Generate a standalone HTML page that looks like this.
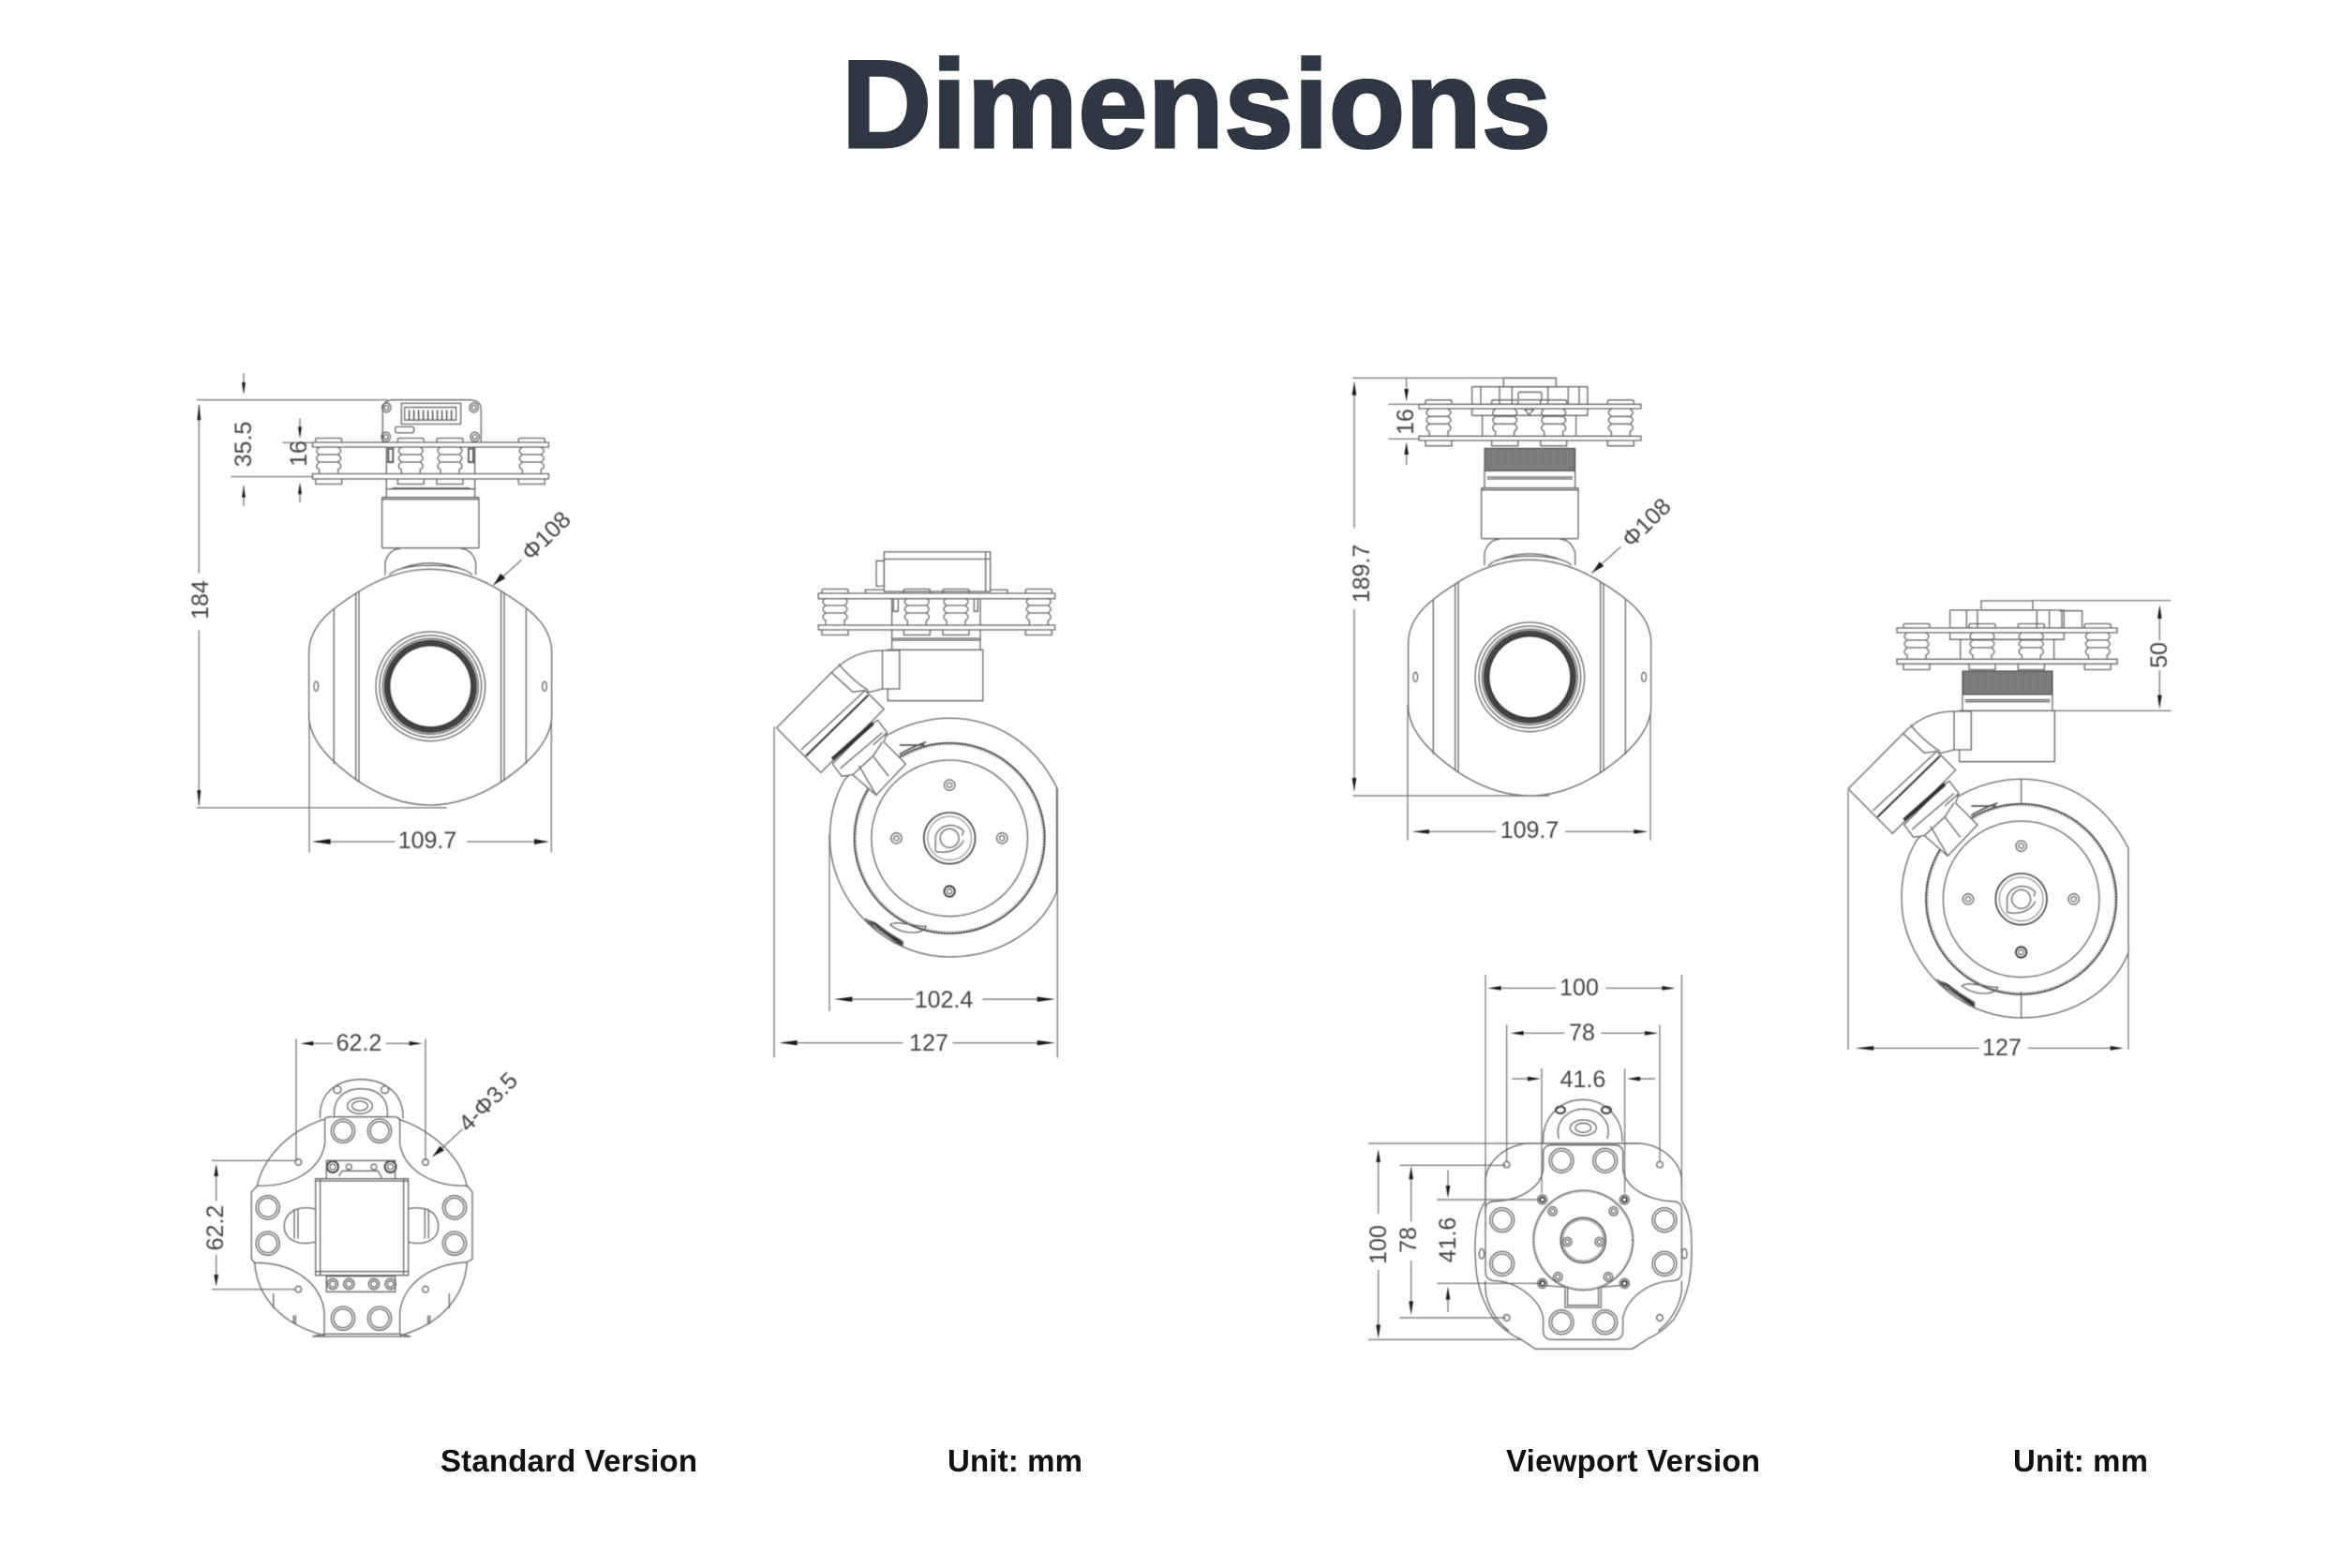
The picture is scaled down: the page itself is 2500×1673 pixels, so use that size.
<!DOCTYPE html>
<html><head><meta charset="utf-8"><style>
html,body{margin:0;padding:0;background:#fff}
svg{display:block}
svg *{vector-effect:non-scaling-stroke}
.s,.s *{fill:none;stroke:#666;stroke-width:1.3}
.w{fill:#fff!important}
.d{fill:none;stroke:#808080;stroke-width:1.4}
.k{fill:#1c1c1c;stroke:none}
.t{font-family:"Liberation Sans",sans-serif;font-size:25px;fill:#444;text-anchor:middle;dominant-baseline:central}
.c{font-family:"Liberation Sans",sans-serif;font-weight:bold;font-size:33px;fill:#111}
</style></head><body>
<svg width="2500" height="1673" viewBox="0 0 2500 1673" xmlns="http://www.w3.org/2000/svg">
<defs>
<pattern id="kn" width="8" height="10" patternUnits="userSpaceOnUse"><rect width="8" height="10" fill="#5a5a5a"/><rect x="1" width="2" height="10" fill="#b0b0b0"/><rect x="5" width="1.500" height="10" fill="#999"/></pattern>
<g id="iso" class="s">
<path d="M-14 0V-3Q-14 -4.500 -12 -4.500H12Q14 -4.500 14 -3V0"/>
<path d="M-10 5C-14 8 -14 10 -10 13C-14 16 -14 18 -10 21C-14 24 -14 27 -10 29V34M10 5C14 8 14 10 10 13C14 16 14 18 10 21C14 24 14 27 10 29V34M-11 13H11M-11 21H11"/>
<path d="M-14 39V44.500H14V39"/>
</g>
<g id="front" transform="translate(1440 390) scale(.33333)" class="s">
<path d="M432 640V600C440 570 460 556 480 556M722 640V600C714 570 694 556 674 556M445 640C475 600 680 600 710 640M470 625Q575 580 685 625"/>
<rect x="422" y="392" width="310" height="162" rx="3" class="w"/>
<path d="M422 398H732"/>
<path class="w" d="M345 695Q575 549 808 695C895 750 965 800 965 890V1090C965 1170 895 1240 808 1300Q575 1454 345 1300C260 1240 188 1170 188 1090V890C188 800 260 750 345 695Z"/>
<path d="M338 698V1298M348 692V1304M803 692V1304M813 698V1298M268 750V1245M883 750V1245" />
<ellipse cx="211" cy="997" rx="7" ry="15"/><ellipse cx="942" cy="997" rx="7" ry="15"/>
<circle cx="577" cy="997" r="175"/><circle cx="577" cy="997" r="163"/><circle cx="577" cy="997" r="153"/>
<circle cx="577" cy="997" r="140" style="stroke:#444;stroke-width:6"/>
<circle cx="577" cy="997" r="131" style="stroke:#333;stroke-width:1.5"/>
</g>
<g id="side" transform="translate(1960 630) scale(.33333)" class="s">
<path class="w" d="M388 660C470 610 560 600 620 605C740 615 860 680 933 825V1160C880 1290 740 1368 590 1368C385 1368 207 1190 207 985C207 910 225 850 255 800Z"/>
<rect x="392" y="385" width="305" height="163" class="w"/>
<path class="w" d="M212 458C260 410 310 387 375 387H430V510H375L335 520L280 520Z"/>
<path d="M375 387V510M235 430C260 460 290 490 330 515"/>
<circle cx="590" cy="988" r="305" style="stroke:#444;stroke-width:1.6"/>
<circle cx="590" cy="988" r="301" style="stroke:#777;stroke-width:2;stroke-dasharray:1.500 1.500"/>
<circle cx="590" cy="988" r="250"/>
<circle cx="590" cy="988" r="82" style="stroke:#444;stroke-width:1.6"/><circle cx="590" cy="988" r="70" style="stroke:#999"/>
<circle cx="590" cy="988" r="30"/>
<path d="M545 1030V985C550 950 600 930 635 965L630 980M545 1030C590 1040 625 1020 635 995"/>
<circle cx="590" cy="818" r="17"/><circle cx="590" cy="818" r="8"/>
<circle cx="590" cy="1158" r="17" style="stroke:#333;stroke-width:1.8"/><circle cx="590" cy="1158" r="8"/>
<circle cx="420" cy="988" r="17"/><circle cx="420" cy="988" r="8"/>
<circle cx="758" cy="988" r="17"/><circle cx="758" cy="988" r="8"/>
<path d="M330 1255L350 1262L440 1328" style="stroke:#333;stroke-width:3.5"/>
<path d="M320 1245L440 1318V1335L345 1270Z"/>
<path d="M400 1265C420 1250 470 1270 515 1270C510 1295 440 1300 400 1265Z"/>
<path d="M430 720C460 700 490 690 515 680M430 690H510" style="stroke:#555;stroke-width:1.8"/>
<path class="w" d="M36 635L212 458L280 520L320 515L380 575L178 778Z"/>
<path d="M115 705L320 515M130 725L330 530" />
<path d="M130 725L330 530" style="stroke:#333;stroke-width:2"/>
<path class="w" d="M215 750L345 620L360 610L390 650L380 680L450 750L355 850L280 785L245 790Z"/>
<path d="M215 735L345 620" style="stroke:#333;stroke-width:4"/>
<path d="M240 765L375 650M280 785L345 725L375 680M345 725L395 790M300 755L355 850M390 650L345 690"/>
</g>
</defs>

<rect width="2500" height="1673" fill="#fff"/>

<text x="898" y="157" font-family="'Liberation Sans',sans-serif" font-weight="bold" font-size="133" fill="#2f3742" stroke="#2f3742" stroke-width="3" textLength="757" lengthAdjust="spacing">Dimensions</text>

<text class="c" x="470" y="1570" textLength="274">Standard Version</text>
<text class="c" x="1011" y="1570" textLength="144">Unit: mm</text>
<text class="c" x="1607" y="1570" textLength="271">Viewport Version</text>
<text class="c" x="2148" y="1570" textLength="144">Unit: mm</text>

<g style="filter:blur(.6px)">
<!-- ========= VIEW A ========= -->
<g transform="translate(180 380) scale(.33333 .359)">
<g class="d"><path d="M90 130H700M97 145V645M97 815V1335M90 1342H890M240 50V85M240 385V445M420 185V215M420 405V435M365 257H470M200 358H460M450 1060V1475M1225 1060V1475M518 1443H725M955 1443H1170M1040 680L1130 605"/></g>
<g class="k"><path d="M97 140L91 190H103ZM97 1337L91 1290H103ZM240 115L234 78H246ZM240 385L234 420H246ZM420 245L414 210H426ZM420 375L414 410H426ZM458 1443L518 1435V1451ZM1218 1443L1170 1435V1451ZM1040 680L1062 646L1078 660Z"/></g>
<g class="s">
<path d="M685 255V160Q685 130 720 130H960Q1000 130 1000 160V255"/>
<circle cx="697" cy="153" r="14"/><circle cx="697" cy="153" r="7"/><circle cx="977" cy="153" r="14"/><circle cx="977" cy="153" r="7"/>
<circle cx="695" cy="240" r="14"/><circle cx="695" cy="240" r="7"/><circle cx="980" cy="240" r="14"/><circle cx="980" cy="240" r="7"/>
<rect x="745" y="140" width="190" height="62"/><rect x="755" y="152" width="165" height="38"/>
<path d="M770 160V188M785 160V188M800 160V188M815 160V188M830 160V188M845 160V188M860 160V188M875 160V188M890 160V188M905 160V188" style="stroke:#555;stroke-width:1.5"/>
<rect x="725" y="210" width="60" height="18" rx="5"/>
<path d="M697 270V395M980 270V395M697 395H980M697 425V395M980 425V395M715 392H965"/>
<rect x="703" y="275" width="15" height="40" style="stroke:#555;stroke-width:1.8"/><rect x="960" y="275" width="15" height="40" style="stroke:#555;stroke-width:1.8"/>
</g>
</g>
<g class="s"><rect class="w" x="333.500" y="472" width="252" height="5"/><rect class="w" x="333.500" y="505.500" width="252" height="5.500"/></g>
<use href="#iso" x="350.700" y="472"/><use href="#iso" x="438.300" y="472"/><use href="#iso" x="480" y="472"/><use href="#iso" x="567.300" y="472"/>
<use href="#front" transform="translate(-1173 10)"/>

<!-- ========= VIEW B ========= -->
<g transform="translate(800 560) scale(.33333 .3846)">
<g class="d"><path d="M78 560V1478M985 730V1478M255 860V1350M328 1316H525M745 1316H920M152 1437H490M650 1437H920"/></g>
<g class="k"><path d="M270 1316L328 1309V1323ZM978 1316L920 1309V1323ZM93 1437L152 1430V1444ZM978 1437L920 1430V1444Z"/></g>
<g class="s">
<rect x="430" y="75" width="340" height="110"/><path d="M430 95H770M755 75V185M405 100H430V170H405Z"/>
<path d="M370 190V180H430M770 180H825V190"/>
<path d="M455 205V345M738 205V345M455 315H738M455 320H738"/>
<rect x="460" y="205" width="15" height="35"/><rect x="718" y="205" width="12" height="35"/>
</g>
</g>
<g class="s"><rect class="w" x="873.300" y="633" width="252.400" height="5.800"/><rect class="w" x="873.300" y="667" width="252.400" height="5"/></g>
<use href="#iso" x="891" y="633"/><use href="#iso" x="978.300" y="633"/><use href="#iso" x="1020" y="633"/><use href="#iso" x="1108.300" y="633"/>
<use href="#side" transform="translate(-1143.500 -65)"/>

<!-- ========= VIEW C ========= -->
<g transform="translate(200 1090) scale(.33333)">
<g class="d"><path d="M348 55V445M762 55V445M403 70H465M635 70H710M78 445H350M78 857H345M92 495V575M92 745V810M785 432L880 345"/></g>
<g class="k"><path d="M362 70L403 63V77ZM752 70L710 63V77ZM92 455L85 495H99ZM92 848L85 810H99ZM785 432L808 398L822 412Z"/></g>
<g class="s">
<path d="M425 310C420 220 490 185 555 185C620 185 692 220 690 310"/>
<path d="M470 305C465 240 510 215 555 215C610 215 645 245 640 305"/>
<ellipse cx="552" cy="270" rx="40" ry="25"/><ellipse cx="552" cy="270" rx="25" ry="15"/>
<circle cx="480" cy="218" r="12"/><circle cx="632" cy="218" r="12"/>
<path d="M440 312C320 350 240 440 222 530M675 312C790 350 880 440 895 530M215 770C222 880 300 970 440 1005M895 770C888 880 810 970 680 1005M400 1008H715M440 1000L400 1008M680 1000L715 1008"/>
<path d="M440 312V390C430 470 340 530 225 525L205 545V760L215 772C340 770 430 840 438 930V1000H680V930C690 840 780 775 895 770L912 760V545L895 525C780 530 690 470 680 390V315Q678 305 660 305H460Q442 305 440 312Z"/>
<path d="M275 870V918M838 870V918M340 940V968M346 940V970M770 940V970M776 940V968"/>
<g>
<circle cx="498" cy="350" r="38"/><circle cx="498" cy="350" r="30"/><circle cx="615" cy="350" r="38"/><circle cx="615" cy="350" r="30"/>
<circle cx="257" cy="595" r="38"/><circle cx="257" cy="595" r="30"/><circle cx="257" cy="710" r="38"/><circle cx="257" cy="710" r="30"/>
<circle cx="855" cy="595" r="38"/><circle cx="855" cy="595" r="30"/><circle cx="855" cy="710" r="38"/><circle cx="855" cy="710" r="30"/>
<circle cx="498" cy="950" r="38"/><circle cx="498" cy="950" r="30"/><circle cx="615" cy="950" r="38"/><circle cx="615" cy="950" r="30"/>
</g>
<circle cx="355" cy="450" r="10"/><circle cx="762" cy="450" r="10"/><circle cx="355" cy="857" r="10"/><circle cx="762" cy="857" r="10"/>
<path d="M410 600C340 585 310 620 310 655C310 695 350 720 410 705M342 600V695M354 600V695M704 600C775 585 803 620 803 655C803 695 765 720 704 705M772 600V695M760 600V695"/>
<rect x="410" y="503" width="297" height="309" class="w"/>
<path d="M425 503V812M692 503V812M410 510H707M410 800H707"/>
<circle cx="465" cy="465" r="18" style="stroke:#444;stroke-width:2"/><circle cx="465" cy="465" r="9"/><circle cx="650" cy="465" r="18" style="stroke:#444;stroke-width:2"/><circle cx="650" cy="465" r="9"/>
<circle cx="517" cy="465" r="9"/><circle cx="597" cy="465" r="9"/>
<path d="M445 503V445H665V503M485 495L495 478H610L622 500"/>
<rect x="445" y="815" width="220" height="50"/>
<circle cx="465" cy="840" r="17"/><circle cx="465" cy="840" r="10"/><circle cx="517" cy="840" r="17"/><circle cx="517" cy="840" r="10"/><circle cx="597" cy="840" r="17"/><circle cx="597" cy="840" r="10"/><circle cx="650" cy="840" r="17"/><circle cx="650" cy="840" r="10"/>
</g>
</g>

<!-- ========= VIEW D ========= -->
<g transform="translate(1440 390) scale(.33333)">
<g class="d"><path d="M15 95V520M15 780V1320M10 40H660M10 1377H640M182 40V80M182 285V318M125 124H240M125 235H240M186 1085V1520M963 1085V1520M255 1492H470M690 1492H910M775 665L868 580"/></g>
<g class="k"><path d="M15 50L8 95H22ZM15 1365L8 1320H22ZM182 115L175 75H189ZM182 245L175 285H189ZM200 1492L255 1485V1499ZM955 1492L910 1485V1499ZM777 663L800 628L814 642Z"/></g>
<g class="s">
<rect x="493" y="40" width="168" height="28"/>
<rect x="392" y="68" width="370" height="56"/>
<path d="M420 68V124M480 68V124M520 68V124M635 68V124M700 68V124M735 68V124"/>
<rect x="540" y="85" width="75" height="25" rx="5"/>
<rect x="392" y="138" width="370" height="22"/>
<path d="M425 160V226M725 160V226M560 140H590L575 158Z"/>
</g>
<rect x="432" y="265" width="290" height="72" fill="url(#kn)" stroke="#444"/>
<g class="s"><path d="M432 337V392M722 337V392M440 357H714M440 363H714"/></g>
</g>
<g class="s"><rect class="w" x="1514" y="431.300" width="237" height="4.700"/><rect class="w" x="1514" y="465.300" width="237" height="4.700"/></g>
<use href="#iso" x="1535" y="431.300"/><use href="#iso" x="1605.700" y="431.300"/><use href="#iso" x="1657.700" y="431.300"/><use href="#iso" x="1729.300" y="431.300"/>
<use href="#front"/>

<!-- ========= VIEW E ========= -->
<g transform="translate(1450 1040) scale(.33333)">
<g class="d"><path d="M405 0V760M1033 0V680M455 43H630M790 43H970M473 160V600M963 160V600M527 187H658M775 187H915M585 300V700M851 300V700M490 333H540M900 333H948M30 540H900M130 610H470M250 720H580M250 988H585M130 1098H470M30 1168H520M62 600V765M62 945V1120M167 655V790M167 915V1045M285 625V675M285 1040V1080"/></g>
<g class="k"><path d="M412 43L455 36V50ZM1013 43L970 36V50ZM485 187L527 180V194ZM958 187L915 180V194ZM582 333L540 326V340ZM858 333L900 326V340ZM62 558L55 600H69ZM62 1165L55 1120H69ZM167 612L160 655H174ZM167 1090L160 1045H174ZM285 715L278 675H292ZM285 998L278 1040H292Z"/></g>
<g class="s">
<path d="M590 540C585 460 640 400 718 400C790 400 845 460 843 535"/>
<path d="M640 525C625 470 670 430 718 430C770 430 810 470 795 525"/>
<ellipse cx="718" cy="490" rx="42" ry="25"/><ellipse cx="718" cy="490" rx="25" ry="15"/>
<ellipse cx="645" cy="433" rx="15" ry="11" style="stroke:#444;stroke-width:2"/><ellipse cx="792" cy="433" rx="15" ry="11" style="stroke:#444;stroke-width:2"/>
<path d="M405 725C380 760 372 810 372 870C372 960 380 1020 430 1100C455 1130 490 1155 515 1165L565 1198H875L925 1165C950 1155 985 1130 1010 1100C1058 1020 1065 960 1065 870C1065 810 1058 760 1033 725"/>
<path d="M405 725V660C405 600 470 545 540 540H900C970 545 1033 600 1033 660V725M405 980V1010C410 1060 440 1110 480 1140M1033 980V1010C1028 1060 998 1110 958 1140"/>
<path d="M590 570Q590 545 620 545H815Q845 545 845 570V620C850 680 920 720 1000 725Q1033 725 1033 750V950Q1033 980 1000 980C920 985 855 1040 845 1100V1140Q845 1168 815 1168H620Q590 1168 590 1140V1100C580 1040 510 985 440 980Q405 980 405 950V750Q405 725 440 725C520 720 585 680 590 620Z"/>
<g>
<circle cx="648" cy="595" r="39"/><circle cx="648" cy="595" r="31"/><circle cx="788" cy="595" r="39"/><circle cx="788" cy="595" r="31"/>
<circle cx="458" cy="785" r="39"/><circle cx="458" cy="785" r="31"/><circle cx="458" cy="925" r="39"/><circle cx="458" cy="925" r="31"/>
<circle cx="978" cy="785" r="39"/><circle cx="978" cy="785" r="31"/><circle cx="978" cy="925" r="39"/><circle cx="978" cy="925" r="31"/>
<circle cx="648" cy="1112" r="39"/><circle cx="648" cy="1112" r="31"/><circle cx="788" cy="1112" r="39"/><circle cx="788" cy="1112" r="31"/>
</g>
<circle cx="473" cy="608" r="10"/><circle cx="963" cy="608" r="10"/><circle cx="473" cy="1098" r="10"/><circle cx="963" cy="1098" r="10"/>
<ellipse cx="393" cy="893" rx="8" ry="16"/><ellipse cx="1042" cy="893" rx="8" ry="16"/>
<circle cx="718" cy="850" r="160" style="stroke:#666;stroke-width:1.300"/>
<circle cx="718" cy="850" r="157" style="stroke:#888;stroke-width:2;stroke-dasharray:1.500 1.500"/>
<circle cx="718" cy="850" r="72" style="stroke:#555;stroke-width:1.600"/><circle cx="718" cy="850" r="66" style="stroke:#999"/>
<circle cx="620" cy="757" r="14"/><circle cx="620" cy="757" r="7"/><circle cx="815" cy="757" r="14"/><circle cx="815" cy="757" r="7"/>
<circle cx="667" cy="855" r="14"/><circle cx="667" cy="855" r="7"/><circle cx="770" cy="855" r="14"/><circle cx="770" cy="855" r="7"/>
<circle cx="637" cy="967" r="14"/><circle cx="637" cy="967" r="7"/><circle cx="798" cy="967" r="14"/><circle cx="798" cy="967" r="7"/>
<circle cx="587" cy="720" r="15"/><circle cx="587" cy="720" r="8" style="stroke:#333;stroke-width:1.8"/><circle cx="850" cy="720" r="15"/><circle cx="850" cy="720" r="8" style="stroke:#333;stroke-width:1.8"/>
<circle cx="587" cy="988" r="15"/><circle cx="587" cy="988" r="8" style="stroke:#333;stroke-width:1.8"/><circle cx="850" cy="988" r="15"/><circle cx="850" cy="988" r="8" style="stroke:#333;stroke-width:1.8"/>
<path d="M600 995L660 1000V1065H775V1000L835 995M668 1000V1058H767V1000"/>
</g>
</g>

<!-- ========= VIEW F ========= -->
<g transform="translate(1960 630) scale(.33333)">
<g class="d"><path d="M36 640V1470M933 1150V1470M118 1465H455M612 1465H875M625 32H1070M698 385H1070M1033 90V160M1033 255V335"/></g>
<g class="k"><path d="M58 1465L118 1458V1472ZM918 1465L875 1458V1472ZM1033 45L1026 90H1040ZM1033 380L1026 335H1040Z"/></g>
<g class="s">
<rect x="462" y="33" width="165" height="30"/>
<rect x="362" y="63" width="365" height="57"/>
<path d="M415 63V120M450 63V120M640 63V120M680 63V120"/>
<path d="M712 65H785V120H712M720 65V120"/>
<rect x="362" y="135" width="365" height="22"/>
<path d="M395 157V220M695 157V220"/>
</g>
<rect x="402" y="258" width="288" height="75" fill="url(#kn)" stroke="#444"/>
<g class="s"><path d="M402 333V385M690 333V385M410 350H682M410 356H682"/></g>
</g>
<g class="s"><rect class="w" x="2024" y="670" width="235" height="5"/><rect class="w" x="2024" y="703.300" width="235" height="5"/></g>
<use href="#iso" x="2045" y="670"/><use href="#iso" x="2115" y="670"/><use href="#iso" x="2167.300" y="670"/><use href="#iso" x="2238.300" y="670"/>
<use href="#side"/>
<g transform="translate(1960 630) scale(.33333)" class="s"><path d="M590 605V685M590 1285V1368"/></g>

<!-- ========= DIMENSION TEXT ========= -->
<text class="t" x="456" y="897">109.7</text>
<text class="t" transform="rotate(-90 214 640)" x="214" y="640">184</text>
<text class="t" transform="rotate(-90 260 474)" x="260" y="474">35.5</text>
<text class="t" transform="rotate(-90 319 484)" x="319" y="484">16</text>
<text class="t" transform="rotate(-45 583 572)" x="583" y="572">Φ108</text>
<text class="t" x="1007" y="1067">102.4</text>
<text class="t" x="991" y="1113">127</text>
<text class="t" x="383" y="1113">62.2</text>
<text class="t" transform="rotate(-90 230 1310)" x="230" y="1310">62.2</text>
<text class="t" transform="rotate(-45 521 1176)" x="521" y="1176">4-Φ3.5</text>
<text class="t" transform="rotate(-90 1453 612)" x="1453" y="612">189.7</text>
<text class="t" transform="rotate(-90 1500 450)" x="1500" y="450">16</text>
<text class="t" x="1632" y="886">109.7</text>
<text class="t" transform="rotate(-45 1757 558)" x="1757" y="558">Φ108</text>
<text class="t" x="1685" y="1054">100</text>
<text class="t" x="1688" y="1102">78</text>
<text class="t" x="1689" y="1152">41.6</text>
<text class="t" transform="rotate(-90 1471 1328)" x="1471" y="1328">100</text>
<text class="t" transform="rotate(-90 1503 1323)" x="1503" y="1323">78</text>
<text class="t" transform="rotate(-90 1545 1323)" x="1545" y="1323">41.6</text>
<text class="t" x="2136" y="1118">127</text>
<text class="t" transform="rotate(-90 2304 699)" x="2304" y="699">50</text>
</g>
</svg>
</body></html>
